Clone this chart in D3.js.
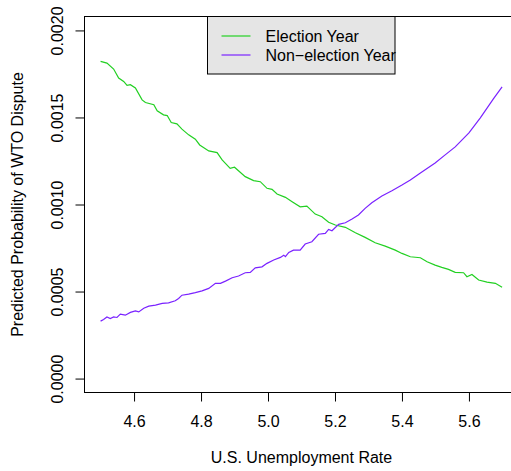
<!DOCTYPE html>
<html>
<head>
<meta charset="utf-8">
<script src="https://cdn.jsdelivr.net/npm/d3@7"></script>
<style>
  body { margin: 0; background: #fff; }
  svg { display: block; font-family: "Liberation Sans", Arial, sans-serif; }
</style>
</head>
<body>
<div id="chart"></div>
<script>
// ---- data ----
const electionX = [4.500,4.519,4.539,4.554,4.569,4.579,4.589,4.604,4.624,4.634,4.659,4.669,4.688,4.699,4.711,4.728,4.743,4.763,4.783,4.796,
  4.823,4.848,4.863,4.887,4.900,4.932,4.957,4.977,4.997,5.012,5.027,5.052,5.072,5.096,5.116,5.141,5.161,5.181,5.201,5.231,
  5.261,5.290,5.320,5.350,5.380,5.400,5.425,5.455,5.475,5.499,5.519,5.539,5.559,5.584,5.594,5.609,5.629,5.654,5.679,5.699];
const electionY = [0.001822,0.001812,0.001778,0.001726,0.001707,0.001684,0.001688,0.001669,0.001601,0.001586,0.001573,0.001538,0.001515,0.001511,0.001471,0.001463,0.001433,0.001400,0.001375,0.001342,
  0.001308,0.001298,0.001256,0.001208,0.001214,0.001160,0.001137,0.001131,0.001093,0.001087,0.001060,0.001041,0.001016,0.000987,0.000991,0.000945,0.000930,0.000898,0.000882,0.000869,
  0.000838,0.000811,0.000780,0.000761,0.000738,0.000719,0.000700,0.000694,0.000671,0.000652,0.000639,0.000627,0.000610,0.000608,0.000585,0.000598,0.000566,0.000554,0.000547,0.000524];

const nonElectionX = [4.500,4.509,4.519,4.529,4.539,4.549,4.559,4.574,4.589,4.604,4.614,4.629,4.644,4.664,4.684,4.703,4.723,4.733,4.743,4.763,
  4.783,4.803,4.823,4.843,4.858,4.873,4.893,4.912,4.932,4.947,4.962,4.982,4.997,5.017,5.037,5.047,5.052,5.062,5.076,5.096,
  5.111,5.131,5.151,5.171,5.181,5.191,5.211,5.231,5.251,5.270,5.290,5.310,5.340,5.370,5.400,5.425,5.455,5.499,5.529,5.559,
  5.600,5.634,5.673,5.699];
const nonElectionY = [0.000330,0.000339,0.000354,0.000345,0.000354,0.000351,0.000370,0.000364,0.000380,0.000389,0.000383,0.000404,0.000416,0.000422,0.000432,0.000435,0.000447,0.000460,0.000479,0.000485,
  0.000494,0.000504,0.000518,0.000547,0.000547,0.000560,0.000579,0.000589,0.000608,0.000610,0.000636,0.000642,0.000662,0.000681,0.000696,0.000709,0.000700,0.000725,0.000738,0.000738,
  0.000773,0.000786,0.000829,0.000834,0.000857,0.000849,0.000886,0.000895,0.000917,0.000940,0.000978,0.001010,0.001049,0.001079,0.001112,0.001141,0.001181,0.001239,0.001285,0.001331,
  0.001411,0.001498,0.001607,0.001676];

const xTicks = [4.6, 4.8, 5.0, 5.2, 5.4, 5.6];
const yTicks = [0, 0.0005, 0.0010, 0.0015, 0.0020];
const seriesNames = ['Election Year', 'Non\u2212election Year'];
const seriesColors = ['#22d022', '#7a22ff'];

// ---- layout ----
const W = 511, H = 471;
const svg = d3.select('#chart').append('svg').attr('width', W).attr('height', H);

// R-style 4% padding around data range
const xr = [4.5, 5.7], yr = [0, 0.002];
const xPad = (xr[1] - xr[0]) * 0.04, yPad = (yr[1] - yr[0]) * 0.04;
const x = d3.scaleLinear().domain([xr[0] - xPad, xr[1] + xPad]).range([84.5, 518.5]);
const y = d3.scaleLinear().domain([yr[0] - yPad, yr[1] + yPad]).range([392.5, 16.5]);

// plot box (right edge falls off the canvas, like the original)
svg.append('rect')
  .attr('x', x.range()[0]).attr('y', y.range()[1])
  .attr('width', x.range()[1] - x.range()[0])
  .attr('height', y.range()[0] - y.range()[1])
  .attr('fill', 'none').attr('stroke', '#000').attr('stroke-width', 1);

// x axis
const gx = svg.append('g').attr('transform', `translate(0,${y.range()[0]})`)
  .call(d3.axisBottom(x).tickValues(xTicks).tickSize(9).tickPadding(14).tickFormat(d3.format('.1f')));
gx.select('.domain').remove();
gx.append('line').attr('x1', x(xTicks[0])).attr('x2', x(xTicks[xTicks.length - 1]))
  .attr('stroke', '#000');
gx.selectAll('.tick line').attr('stroke', '#000');
gx.selectAll('.tick text').attr('font-size', 16).attr('fill', '#000')
  .attr('font-family', '"Liberation Sans", Arial, sans-serif');

// y axis
const gy = svg.append('g').attr('transform', `translate(${x.range()[0]},0)`)
  .call(d3.axisLeft(y).tickValues(yTicks).tickSize(9).tickFormat(d3.format('.4f')));
gy.select('.domain').remove();
gy.append('line').attr('y1', y(yTicks[0])).attr('y2', y(yTicks[yTicks.length - 1]))
  .attr('stroke', '#000');
gy.selectAll('.tick line').attr('stroke', '#000');
gy.selectAll('.tick text')
  .attr('x', null).attr('dy', null)
  .attr('text-anchor', 'middle')
  .attr('transform', 'translate(-22,0) rotate(-90)')
  .attr('font-size', 16).attr('fill', '#000')
  .attr('font-family', '"Liberation Sans", Arial, sans-serif');

// axis titles
svg.append('text')
  .attr('x', (x.range()[0] + x.range()[1]) / 2).attr('y', 463)
  .attr('text-anchor', 'middle').attr('font-size', 16)
  .text('U.S. Unemployment Rate');
svg.append('text')
  .attr('transform', `translate(23,${(y.range()[0] + y.range()[1]) / 2}) rotate(-90)`)
  .attr('text-anchor', 'middle').attr('font-size', 16)
  .text('Predicted Probability of WTO Dispute');

// lines
const line = d3.line().x(d => x(d[0])).y(d => y(d[1]));
const series = [
  d3.zip(electionX, electionY),
  d3.zip(nonElectionX, nonElectionY)
];
series.forEach((s, i) => {
  svg.append('path').datum(s)
    .attr('d', line)
    .attr('fill', 'none')
    .attr('stroke', seriesColors[i])
    .attr('stroke-width', 1.2);
});

// legend
const lg = svg.append('g').attr('transform', 'translate(207.5,16.5)');
lg.append('rect').attr('width', 187.5).attr('height', 57.5)
  .attr('fill', '#e5e5e5').attr('stroke', '#000');
seriesNames.forEach((name, i) => {
  const ly = 19.5 + i * 19;
  lg.append('line').attr('x1', 14).attr('x2', 43).attr('y1', ly).attr('y2', ly)
    .attr('stroke', seriesColors[i]).attr('stroke-width', 1.2);
  lg.append('text').attr('x', 58).attr('y', ly + 5.5)
    .attr('font-size', 16).text(name);
});
</script>
</body>
</html>
